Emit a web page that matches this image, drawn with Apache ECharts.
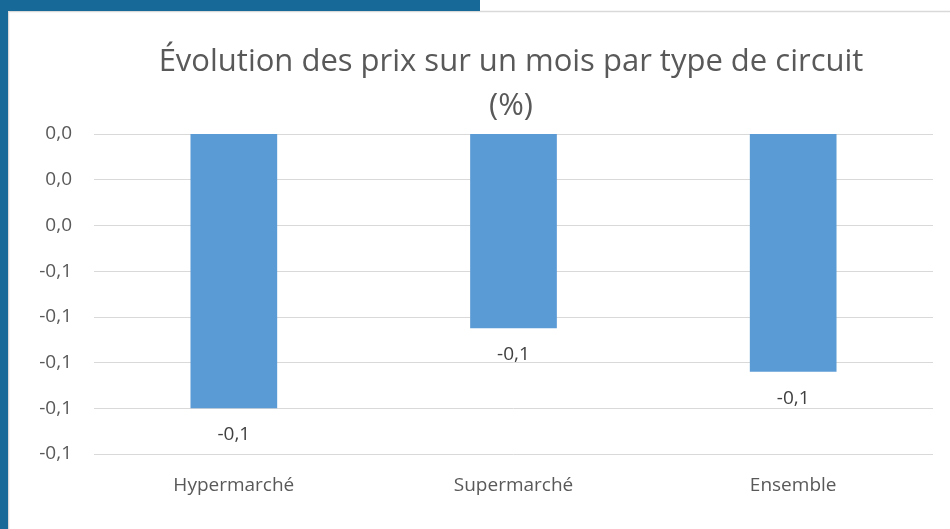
<!DOCTYPE html>
<html>
<head>
<meta charset="utf-8">
<script src="https://cdn.jsdelivr.net/npm/echarts@6/dist/echarts.min.js"></script>
<style>html,body{margin:0;padding:0;background:#fff;}#c{width:950px;height:529px;}</style>
</head>
<body>
<div id="c"></div>
<script>
const categories = ['Hypermarché', 'Supermarché', 'Ensemble'];
const values = [-0.12, -0.085, -0.104];
const titleText = 'Évolution des prix sur un mois par type de circuit\n(%)';

function fmt(v) {
  const r = Math.round(v * 10) / 10;
  return (r === 0 ? 0 : r).toFixed(1).replace('.', ',');
}

const chart = echarts.init(document.getElementById('c'));
const FONT = 'Open Sans';
chart.setOption({
  animation: false,
  backgroundColor: '#ffffff',
  title: {
    text: titleText,
    left: 506,
    top: 35,
    textAlign: 'center',
    textStyle: { fontFamily: FONT, fontSize: 31, fontWeight: 'normal', color: '#595959', lineHeight: 44 }
  },
  grid: { left: 94, right: 17, top: 134, bottom: 75, containLabel: false },
  xAxis: {
    type: 'category',
    data: categories,
    position: 'bottom',
    axisLine: { show: false, onZero: false },
    axisTick: { show: false },
    axisLabel: { fontFamily: FONT, fontSize: 19, color: '#595959', margin: 22 }
  },
  yAxis: {
    type: 'value',
    min: -0.14,
    max: 0,
    interval: 0.02,
    axisLine: { show: false },
    axisTick: { show: false },
    splitLine: { lineStyle: { color: '#d9d9d9', width: 1 } },
    axisLabel: { fontFamily: FONT, fontSize: 19, color: '#595959', margin: 22, formatter: fmt }
  },
  series: [{
    type: 'bar',
    data: values,
    barWidth: '31%',
    itemStyle: { color: '#5b9bd5' },
    label: {
      show: true,
      position: 'bottom',
      distance: 17,
      fontFamily: FONT,
      fontSize: 19,
      color: '#404040',
      formatter: p => fmt(p.value)
    }
  }],
  graphic: [
    { type: 'rect', shape: { x: 0, y: 0, width: 480, height: 11 }, style: { fill: '#176a98' }, z: 100 },
    { type: 'rect', shape: { x: 0, y: 0, width: 8, height: 529 }, style: { fill: '#176a98' }, z: 100 },
    { type: 'line', shape: { x1: 8, y1: 11.5, x2: 950, y2: 11.5 }, style: { stroke: '#d9d9d9', lineWidth: 1.5 }, z: 99 },
    { type: 'line', shape: { x1: 8.5, y1: 11, x2: 8.5, y2: 529 }, style: { stroke: '#d9d9d9', lineWidth: 1.5 }, z: 99 }
  ]
});
</script>
</body>
</html>
